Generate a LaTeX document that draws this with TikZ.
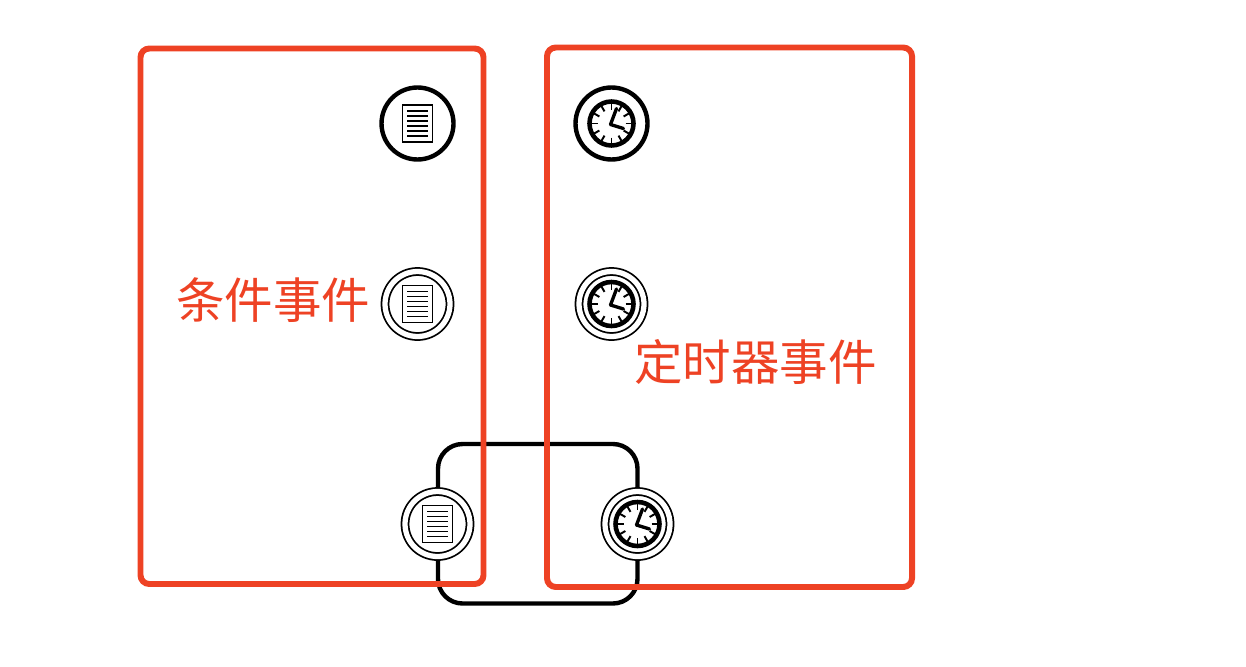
\documentclass[tikz,border=0pt]{standalone}
\usepackage{fontspec}
\newfontfamily\cjk{Noto Sans CJK SC}
\definecolor{eventred}{RGB}{238,66,36}
\tikzset{
    eventbox/.style={draw=eventred, line width=3.4pt, rounded corners=5pt},
    eventtext/.style={text=eventred, font=\cjk\fontsize{27.6}{27.6}\selectfont, inner sep=0pt},
    taskbox/.style={draw=black, line width=2.5pt, rounded corners=14pt},
    startevent/.style={circle, draw, fill=white, line width=2.5pt, minimum size=1.44cm, inner sep=0pt},
    midevent/.style={circle, draw, double, double distance=3pt, fill=white, line width=1pt, minimum size=1.3cm, inner sep=0pt},
    pics/doc/.style={code={
        \draw [line width=1pt, fill=white] (-15, -18.5) rectangle (15, 18.5);
        \foreach \y in {-12.5, -7.5, ..., 13} {
            \draw [line width=1.1pt] (-10.5, \y) -- (10.5, \y);
        }
    }},
    pics/clock/.style={code={
        \foreach \a in {0, 30, ..., 330} {
            \draw [line width=1.1pt] (\a:14) -- (\a:21);
        }
        \draw [line width=2.6pt] (0, 0) circle (22);
        \draw [line width=1.9pt, line cap=round] (-1, 1) -- (5, -15);
        \draw [line width=1.9pt, line cap=round] (-1, 1) -- (12, 5);
    }}
}
\begin{document}
\begin{tikzpicture}[x=0.02cm, y=-0.02cm]
    \useasboundingbox (0, 0) rectangle (1246, 666);

    % task
    \draw [taskbox] (438, 444) rectangle (637.5, 603.5);

    % start events
    \node [startevent] (docstart) at (417.5, 123.5) {};
    \node [startevent] (clockstart) at (611.5, 123.5) {};

    % intermediate events
    \node [midevent] (docmid) at (417.5, 304) {};
    \node [midevent] (clockmid) at (611.5, 304) {};

    % boundary events
    \node [midevent] (docedge) at (437.5, 524) {};
    \node [midevent] (clockedge) at (637.5, 524) {};

    \pic at (docstart) {doc};
    \pic at (docmid) {doc};
    \pic at (docedge) {doc};
    \pic at (clockstart) {clock};
    \pic at (clockmid) {clock};
    \pic at (clockedge) {clock};

    % groups
    \draw [eventbox] (140.5, 48.5) rectangle (483.5, 584);
    \draw [eventbox] (547, 47.5) rectangle (912, 587);

    \node [eventtext] (conditional) at (273, 300.5) {条件事件};
    \node [eventtext] (timer) at (755.5, 361.5) {定时器事件};
\end{tikzpicture}
\end{document}
